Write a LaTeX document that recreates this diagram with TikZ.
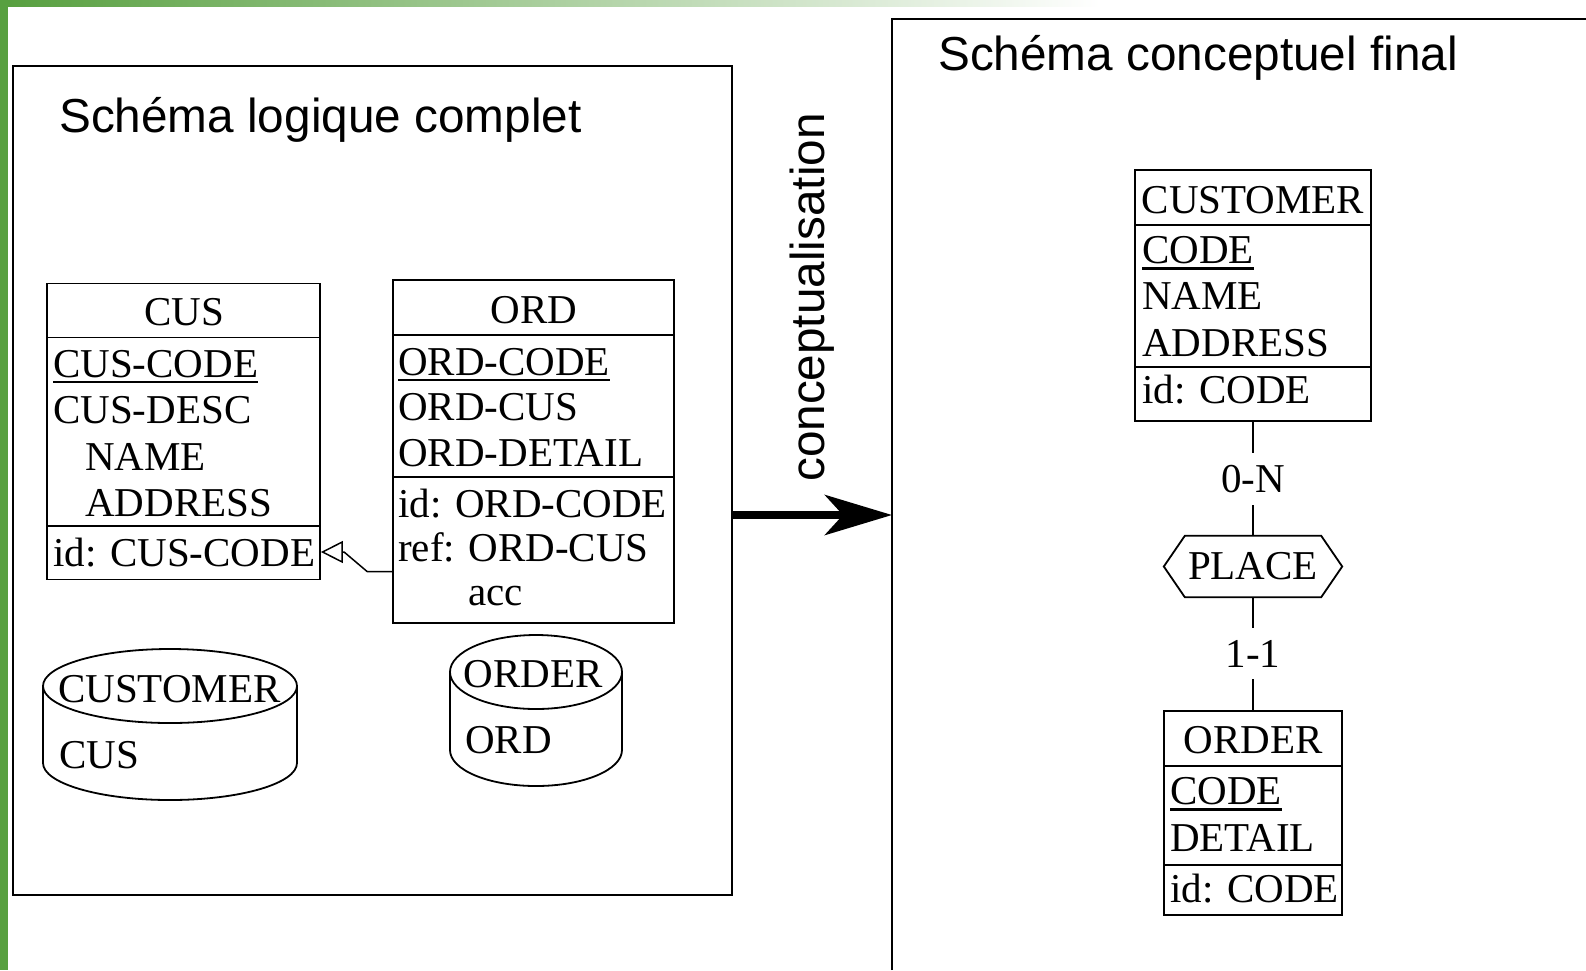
\documentclass[tikz,border=0pt]{standalone}
\usepackage{fontspec}
\setmainfont{Liberation Serif}
\newfontfamily\arialfont{Liberation Sans}
\usepackage{tikz}
\usetikzlibrary{arrows.meta}
\definecolor{slidegreen}{RGB}{88,160,64}
\newcommand{\tabfont}{\fontsize{41pt}{46pt}\selectfont}
\newcommand{\titlefont}{\arialfont\fontsize{47.7pt}{57pt}\selectfont}
\newcommand{\keyfield}[1]{\setbox0\hbox{#1}\rlap{\rule[-6pt]{\wd0}{2.4pt}}\box0}

\begin{document}
\begin{tikzpicture}[x=1pt, y=-1pt,
	panel/.style={draw, line width=2pt, inner sep=0pt},
	tabbox/.style={draw, line width=1.8pt, inner sep=0pt},
	tabline/.style={line width=1.8pt},
	txt/.style={font=\tabfont, inner sep=0pt, anchor=base west},
	head/.style={font=\tabfont, inner sep=0pt, anchor=base},
	heading/.style={font=\titlefont, inner sep=0pt, anchor=base west},
	cardlabel/.style={font=\tabfont, fill=white, inner xsep=4pt, inner ysep=12pt}]
	\useasboundingbox (0,0) rectangle (1586,970);
	\fill[slidegreen] (0,0) rectangle (8,970);
	\shade[left color=slidegreen, right color=white] (8,0) rectangle (1100,6);

	\node[panel, minimum width=719pt, minimum height=829pt] (logframe) at (372.5,480.5) {};
	\coordinate (concorner) at (892,19);
	\draw[line width=2pt] (concorner |- 0,970) -- (concorner) -- (1586,19);
	\node[heading] (logtitle) at (59,132) {Schéma logique complet};
	\node[heading] (contitle) at (938,70) {Schéma conceptuel final};
	\node[font=\titlefont, inner sep=0pt, rotate=90, anchor=base] (convlabel) at (824,297.5) {conceptualisation};
	\draw[line width=8pt, -{Stealth[length=67pt, width=40pt, inset=18pt]}] (logframe.east |- 0,515) -- (concorner |- 0,515);

	\node[tabbox, minimum width=273pt, minimum height=296pt] (cusbox) at (183.5,431.5) {};
	\draw[tabline] (cusbox.west |- 0,337.5) -- (cusbox.east |- 0,337.5);
	\draw[tabline] (cusbox.west |- 0,526) -- (cusbox.east |- 0,526);
	\node[head] (cushead) at (184.5,325) {CUS};
	\node[txt] (cuscode) at (53,377) {\keyfield{CUS-CODE}};
	\node[txt] (cusdesc) at (53,423) {CUS-DESC};
	\node[txt] (cusname) at (85,470) {NAME};
	\node[txt] (cusaddr) at (85,516) {ADDRESS};
	\node[txt] (cusid) at (53,566) {id: CUS-CODE};

	\node[tabbox, minimum width=281pt, minimum height=343pt] (ordbox) at (533.5,451.5) {};
	\draw[tabline] (ordbox.west |- 0,335) -- (ordbox.east |- 0,335);
	\draw[tabline] (ordbox.west |- 0,477) -- (ordbox.east |- 0,477);
	\node[head] (ordhead) at (534,323) {ORD};
	\node[txt] (ordcode) at (398,375) {\keyfield{ORD-CODE}};
	\node[txt] (ordcus) at (398,420.5) {ORD-CUS};
	\node[txt] (orddetail) at (398,466) {ORD-DETAIL};
	\node[txt] (ordid) at (398,517) {id: ORD-CODE};
	\node[txt] (ordref) at (398,561) {ref: ORD-CUS};
	\node[txt] (ordacc) at (468,605) {acc};
	\draw[line width=1.5pt, -{Triangle[open, length=22pt, width=22pt]}] (ordbox.west |- 0,571.5) -- ++(-25,0) -- ++(-23,-19.5) -- (cusbox.east |- 0,552);

	\coordinate (custcyl) at (170,686);
	\draw[tabline] (custcyl) ellipse [x radius=127pt, y radius=37pt];
	\draw[tabline] ([xshift=-127pt]custcyl) -- ++(0,77) arc[start angle=180, end angle=360, x radius=127pt, y radius=37pt] -- ++(0,-77);
	\node[head] (custcylname) at (169.5,702) {CUSTOMER};
	\node[txt] (custcyltab) at (59,768) {CUS};

	\coordinate (ordcyl) at (536,672);
	\draw[tabline] (ordcyl) ellipse [x radius=86pt, y radius=37pt];
	\draw[tabline] ([xshift=-86pt]ordcyl) -- ++(0,78) arc[start angle=180, end angle=360, x radius=86pt, y radius=36pt] -- ++(0,-78);
	\node[head] (ordcylname) at (533,687) {ORDER};
	\node[txt] (ordcyltab) at (465,753) {ORD};

	\node[tabbox, minimum width=236pt, minimum height=251pt] (custbox) at (1253,295.5) {};
	\draw[tabline] (custbox.west |- 0,225) -- (custbox.east |- 0,225);
	\draw[tabline] (custbox.west |- 0,367) -- (custbox.east |- 0,367);
	\node[head] (custhead) at (1253,213) {CUSTOMER};
	\node[txt] (custcode) at (1142,263.5) {\keyfield{CODE}};
	\node[txt] (custname) at (1142,309.5) {NAME};
	\node[txt] (custaddr) at (1142,356) {ADDRESS};
	\node[txt] (custid) at (1142,403) {id: CODE};

	\node[font=\tabfont, minimum width=178pt, minimum height=61pt, inner sep=0pt] (place) at (1253,566.5) {PLACE};
	\draw[tabline] (place.west) -- ([xshift=21pt]place.north west) -- ([xshift=-21pt]place.north east) -- (place.east) -- ([xshift=-21pt]place.south east) -- ([xshift=21pt]place.south west) -- cycle;

	\node[tabbox, minimum width=178pt, minimum height=204pt] (ordrbox) at (1253,813) {};
	\draw[tabline] (ordrbox.west |- 0,766) -- (ordrbox.east |- 0,766);
	\draw[tabline] (ordrbox.west |- 0,865) -- (ordrbox.east |- 0,865);
	\node[head] (ordrhead) at (1253,753) {ORDER};
	\node[txt] (ordrcode) at (1170,804.5) {\keyfield{CODE}};
	\node[txt] (ordrdetail) at (1170,851) {DETAIL};
	\node[txt] (ordrid) at (1170,902) {id: CODE};

	\draw[tabline] (custbox.south) -- node[cardlabel] (custcard) {0-N} (place.north);
	\draw[tabline] (place.south) -- node[cardlabel] (ordrcard) {1-1} (ordrbox.north);
\end{tikzpicture}
\end{document}
